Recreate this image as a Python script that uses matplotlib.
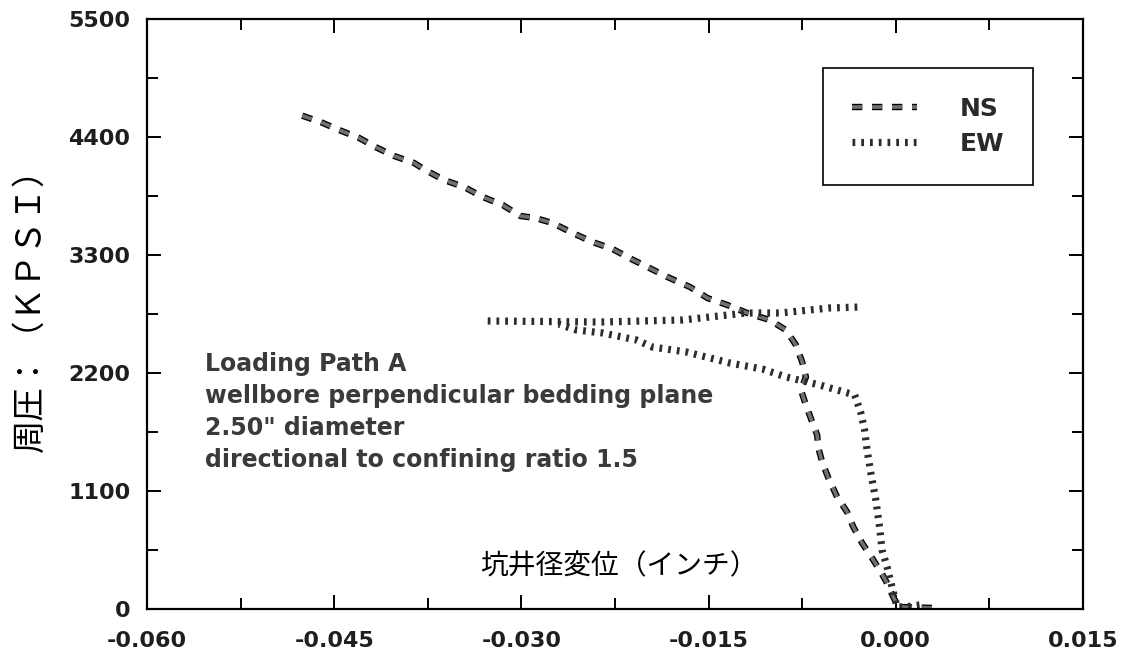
import matplotlib
matplotlib.use("Agg")
import matplotlib.pyplot as plt
from matplotlib.legend_handler import HandlerTuple

# dash lengths below are given in points, not in linewidth units
plt.rcParams["lines.scale_dashes"] = False

# ── borehole displacement (inch) vs. confining pressure ──
ns_x = [0.0029, 0.0002, -0.0002, -0.0007, -0.0012, -0.0019, -0.0027, -0.0034,
        -0.0039, -0.0047, -0.0054, -0.0059, -0.0062, -0.0063, -0.0067, -0.0072,
        -0.0076, -0.0072, -0.0075, -0.0080, -0.0088, -0.0101, -0.0119, -0.0135,
        -0.0151, -0.0165, -0.0183, -0.0199, -0.0212, -0.0227, -0.0243, -0.0259,
        -0.0275, -0.0289, -0.0301, -0.0315, -0.0331, -0.0346, -0.0362, -0.0377,
        -0.0386, -0.0402, -0.0417, -0.0430, -0.0446, -0.0461, -0.0482]
ns_y = [10, 19, 112, 242, 345, 475, 615, 764,
        904, 1044, 1221, 1370, 1500, 1622, 1743, 1902,
        2041, 2163, 2302, 2461, 2600, 2694, 2759, 2834,
        2899, 3002, 3095, 3188, 3263, 3356, 3421, 3505,
        3598, 3645, 3664, 3766, 3841, 3934, 3999, 4092,
        4158, 4223, 4307, 4391, 4465, 4540, 4624]

ew_x = [0.0019, 0.0007, 0.0001, -0.0003, -0.0007, -0.0011, -0.0013, -0.0016,
        -0.0020, -0.0023, -0.0025, -0.0028, -0.0032, -0.0033, -0.0061, -0.0088,
        -0.0107, -0.0133, -0.0168, -0.0195, -0.0208, -0.0235, -0.0256, -0.0270]
ew_y = [37, 19, 19, 205, 392, 550, 764, 1016,
        1268, 1482, 1669, 1827, 1967, 1995, 2088, 2163,
        2237, 2293, 2396, 2442, 2508, 2573, 2601, 2655]
ew_upper_x = [-0.0327, -0.0237, -0.0171, -0.0120, -0.0093, -0.0053, -0.0029]
ew_upper_y = [2685, 2675, 2694, 2759, 2759, 2806, 2815]

x_ticks = [-0.060, -0.045, -0.030, -0.015, 0.000, 0.015]
x_tick_labels = ["-0.060", "-0.045", "-0.030", "-0.015", "0.000", "0.015"]
y_ticks = [0, 1100, 2200, 3300, 4400, 5500]

note_lines = ["Loading Path A",
              "wellbore perpendicular bedding plane",
              '2.50" diameter',
              "directional to confining ratio 1.5"]

cjk = ["Noto Sans CJK JP", "DejaVu Sans"]

fig = plt.figure(figsize=(11.24, 6.62), dpi=100)
ax = fig.add_axes([0.1308, 0.0801, 0.8327, 0.8912])

# NS: grey dashes with a dark rim (black underlay + grey on top, same dash phase)
ns_dash = (0, (7.4, 7.0))
ns_edge, = ax.plot(ns_x, ns_y, color="black", lw=4.6, ls=ns_dash, dash_capstyle="butt")
ns_fill, = ax.plot(ns_x, ns_y, color="#707070", lw=2.7, ls=ns_dash, dash_capstyle="butt")

# EW: short thick bars
ew_dash = (0, (2.0, 4.3))
ew_line, = ax.plot(ew_x, ew_y, color="#2c2c2c", lw=5.2, ls=ew_dash, dash_capstyle="butt")
ax.plot(ew_upper_x, ew_upper_y, color="#2c2c2c", lw=5.2, ls=ew_dash, dash_capstyle="butt")

ax.set_xlim(-0.060, 0.015)
ax.set_ylim(0, 5500)
ax.set_xticks(x_ticks)
ax.set_xticklabels(x_tick_labels)
ax.set_xticks([-0.0525, -0.0375, -0.0225, -0.0075, 0.0075], minor=True)
ax.set_yticks(y_ticks)
ax.set_yticks([550, 1650, 2750, 3850, 4950], minor=True)

ax.tick_params(which="both", direction="in", top=True, right=True, width=1.4)
ax.tick_params(which="major", length=10)
ax.tick_params(which="minor", length=8)
ax.tick_params(axis="x", pad=16, labelsize=16)
ax.tick_params(axis="y", pad=12, labelsize=16)
for lab in ax.get_xticklabels() + ax.get_yticklabels():
    lab.set_fontweight("bold")
    lab.set_color("#1e1e1e")
for sp in ax.spines.values():
    sp.set_linewidth(1.6)

ax.set_xlabel("坑井径変位（インチ）", family=cjk, fontsize=20)
ax.xaxis.set_label_coords(0.504, 0.073)
ax.xaxis.label.set_verticalalignment("center")
ax.set_ylabel("周圧：（ＫＰＳＩ）", family=cjk, fontsize=24)
ax.yaxis.set_label_coords(-0.125, 0.52)
ax.yaxis.label.set_verticalalignment("center")

ax.text(0.062, 0.4356, "\n".join(note_lines), transform=ax.transAxes,
        ha="left", va="top", fontsize=17, fontweight="bold",
        color="#3a3a3a", linespacing=1.42)

leg = ax.legend([(ns_edge, ns_fill), ew_line], ["NS", "EW"],
                handler_map={tuple: HandlerTuple(ndivide=1)},
                loc="upper right", bbox_to_anchor=(0.9466, 0.917), borderaxespad=0,
                prop={"weight": "bold", "size": 18},
                handlelength=2.6, handletextpad=1.7, labelspacing=0.45,
                borderpad=1.15, fancybox=False, framealpha=1.0,
                edgecolor="black")
leg.get_frame().set_linewidth(1.2)
for t in leg.get_texts():
    t.set_color("#2a2a2a")

fig.savefig("out.png", dpi=100)
